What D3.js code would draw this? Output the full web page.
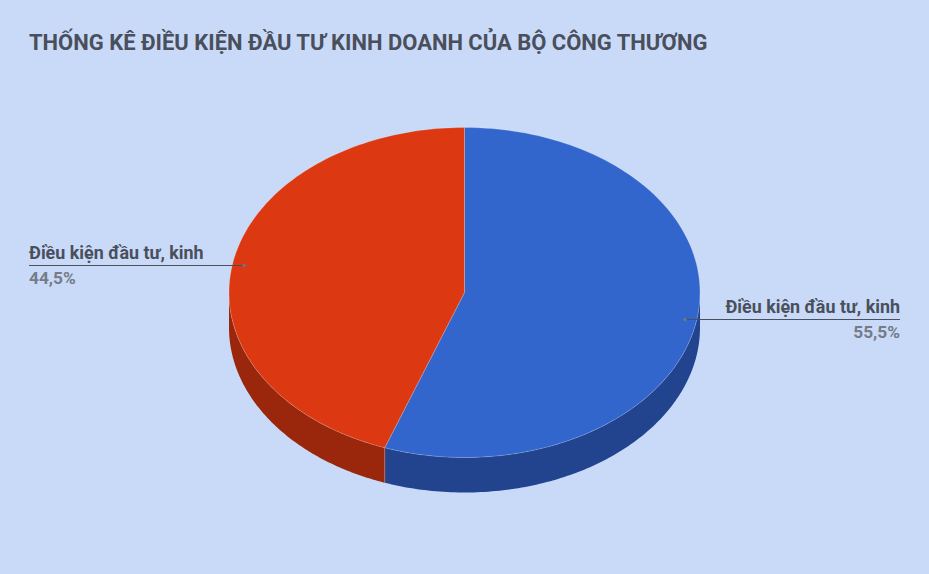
<!DOCTYPE html>
<html><head><meta charset="utf-8">
<script src="https://cdn.jsdelivr.net/npm/d3@7/dist/d3.min.js"></script>
<style>html,body{margin:0;padding:0;background:#c9daf8}svg{display:block}text{font-family:Roboto,sans-serif;font-weight:700}</style>
</head><body><div id="chart"></div>
<script>
const chartTitle = "THỐNG KÊ ĐIỀU KIỆN ĐẦU TƯ KINH DOANH CỦA BỘ CÔNG THƯƠNG";
const categories = ["Điều kiện đầu tư, kinh", "Điều kiện đầu tư, kinh"];
const values = [55.5, 44.5];
const valueLabels = ["55,5%", "44,5%"];
const topColors = ["#3366cc", "#dc3912"];
const sideColors = ["#22448f", "#9a260c"];

const W = 929, H = 574, cx = 464.5, cy = 292.5, rx = 235.5, ry = 165, depth = 35;
const svg = d3.select("#chart").append("svg").attr("width", W).attr("height", H);
svg.append("rect").attr("width", W).attr("height", H).attr("fill", "#c9daf8");
svg.append("text").attr("x", 29).attr("y", 50).attr("font-size", 21.97).attr("fill", "#4a4f5c").text(chartTitle);

const arcs = d3.pie().sort(null).value(d => d)(values);
const px = a => cx + rx * Math.sin(a), py = a => cy - ry * Math.cos(a);
const line = d3.line();
const sweep = (a0, a1) => d3.range(0, 121).map(i => a0 + (a1 - a0) * i / 120);

// side walls (front half only)
const frontA = Math.PI / 2, frontB = 3 * Math.PI / 2;
svg.selectAll("path.side").data(arcs).join("path").attr("class", "side")
  .attr("fill", (d, i) => sideColors[i])
  .attr("d", d => {
    const a0 = Math.max(d.startAngle, frontA), a1 = Math.min(d.endAngle, frontB);
    const s = sweep(a0, a1);
    return line([...s.map(a => [px(a), py(a)]), ...s.reverse().map(a => [px(a), py(a) + depth])]) + "Z";
  });
// slice seam on the wall
svg.append("line").attr("x1", px(arcs[0].endAngle)).attr("x2", px(arcs[0].endAngle))
  .attr("y1", py(arcs[0].endAngle)).attr("y2", py(arcs[0].endAngle) + depth)
  .attr("stroke", "#e8785c").attr("stroke-opacity", .6).attr("stroke-width", 1);

// top faces
svg.selectAll("path.top").data(arcs).join("path").attr("class", "top")
  .attr("fill", (d, i) => topColors[i])
  .attr("stroke", "#fff").attr("stroke-opacity", .25).attr("stroke-width", .8)
  .attr("d", d => line([[cx, cy], ...sweep(d.startAngle, d.endAngle).map(a => [px(a), py(a)])]) + "Z");

// leaders + labels
const labelX = [900, 29], anchors = ["end", "start"];
arcs.forEach((d, i) => {
  const m = (d.startAngle + d.endAngle) / 2, f = 0.95;
  const x = cx + rx * f * Math.sin(m), y = Math.floor(cy - ry * f * Math.cos(m)) + 0.5;
  svg.append("line").attr("x1", x).attr("x2", labelX[i]).attr("y1", y).attr("y2", y)
    .attr("stroke", "#4a4f5c").attr("stroke-width", 1);
  svg.append("circle").attr("cx", x).attr("cy", y).attr("r", 1.7).attr("fill", "#6f7683");
  svg.append("text").attr("x", labelX[i]).attr("y", y - 6.5).attr("text-anchor", anchors[i])
    .attr("font-size", 17.9).attr("fill", "#4a4f5c").text(categories[i]);
  svg.append("text").attr("x", labelX[i]).attr("y", y + 18.5).attr("text-anchor", anchors[i])
    .attr("font-size", 17.3).attr("fill", "#757b87").text(valueLabels[i]);
});
</script></body></html>
